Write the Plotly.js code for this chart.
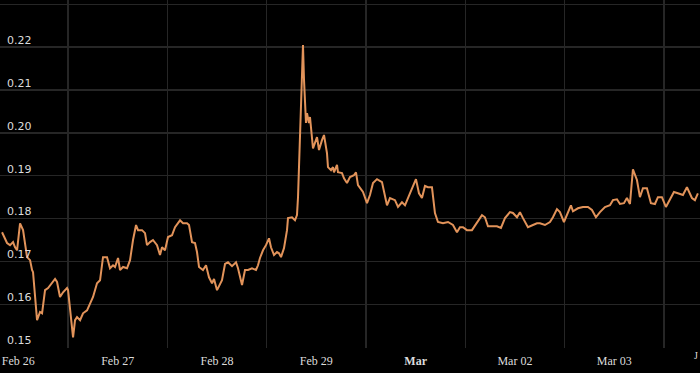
<!DOCTYPE html>
<html>
<head>
<meta charset="utf-8">
<script src="https://cdn.plot.ly/plotly-3.0.1.min.js"></script>
<style>
  html, body { margin: 0; padding: 0; background: #000; }
  #chart { width: 700px; height: 373px; }
</style>
</head>
<body>
<div id="chart"></div>
<script>
// hours offset from 2024-02-26 00:00
const hours = [-3.94,-2.73,-2.01,-1.28,-0.80,-0.31,0.41,1.14,2.10,2.83,3.31,3.55,4.52,5.24,5.73,6.45,7.18,8.14,8.87,9.35,10.07,10.80,11.77,12.01,12.49,13.22,13.70,14.18,14.91,15.63,16.60,17.32,18.05,19.01,19.74,20.46,21.43,22.15,22.88,23.36,24.09,24.57,25.30,26.26,26.99,27.71,28.44,28.92,29.89,30.61,31.09,31.82,32.54,33.51,34.23,34.72,35.44,36.17,37.13,37.86,39.07,39.79,40.76,41.24,41.97,42.69,43.17,43.66,44.62,45.35,46.07,46.80,47.28,48.01,48.73,49.21,49.94,50.66,51.63,52.60,53.08,53.56,54.05,54.77,55.50,56.46,57.43,57.91,58.39,59.12,59.84,60.57,61.05,61.78,62.50,62.99,63.47,64.19,64.92,65.16,66.13,66.85,67.33,67.58,68.06,68.54,68.78,69.03,69.51,69.75,70.23,70.47,70.96,71.20,72.17,72.65,73.37,73.86,74.58,74.82,75.55,76.03,76.27,77.00,77.24,78.21,78.69,79.41,80.14,81.10,81.59,82.07,83.28,84.25,84.97,85.70,86.66,87.87,89.08,89.80,91.01,91.74,92.70,93.43,94.63,96.08,96.81,97.53,98.26,98.98,99.95,100.67,101.40,102.61,103.82,105.02,105.99,106.71,107.44,108.41,109.61,110.82,112.03,112.75,113.48,114.69,115.65,116.62,117.59,118.79,119.52,120.49,121.21,121.94,123.14,124.35,125.32,126.04,127.25,128.46,129.18,130.15,130.87,131.84,132.57,133.53,134.02,135.22,136.43,137.64,138.61,139.57,140.54,141.75,142.96,143.68,144.65,145.37,146.34,147.06,147.79,148.51,149.48,150.20,150.93,151.89,152.86,153.83,154.55,155.52,156.48,157.45,158.42,159.38,160.59,161.56,162.77,163.49,164.21];

const values = [0.1768,0.1743,0.1738,0.1745,0.1733,0.1726,0.1789,0.1773,0.1710,0.1703,0.1680,0.1675,0.1563,0.1582,0.1579,0.1633,0.1638,0.1649,0.1659,0.1652,0.1617,0.1628,0.1638,0.1633,0.1593,0.1523,0.1563,0.1570,0.1563,0.1579,0.1586,0.1603,0.1617,0.1649,0.1656,0.1710,0.1710,0.1684,0.1691,0.1687,0.1708,0.1680,0.1687,0.1684,0.1703,0.1750,0.1785,0.1773,0.1773,0.1766,0.1738,0.1745,0.1750,0.1738,0.1715,0.1733,0.1726,0.1757,0.1761,0.1780,0.1796,0.1789,0.1789,0.1785,0.1745,0.1743,0.1722,0.1687,0.1680,0.1691,0.1663,0.1649,0.1659,0.1633,0.1649,0.1656,0.1694,0.1698,0.1689,0.1698,0.1684,0.1663,0.1645,0.1680,0.1680,0.1684,0.1680,0.1691,0.1708,0.1726,0.1738,0.1754,0.1733,0.1715,0.1722,0.1719,0.1710,0.1731,0.1773,0.1801,0.1803,0.1796,0.1808,0.1850,0.2006,0.2163,0.2205,0.2123,0.2023,0.2046,0.2023,0.2037,0.1990,0.1964,0.1990,0.1960,0.1983,0.1995,0.1953,0.1920,0.1913,0.1920,0.1908,0.1925,0.1908,0.1906,0.1894,0.1883,0.1897,0.1901,0.1908,0.1878,0.1862,0.1836,0.1855,0.1883,0.1892,0.1885,0.1831,0.1848,0.1843,0.1827,0.1838,0.1831,0.1859,0.1892,0.1859,0.1848,0.1876,0.1873,0.1873,0.1813,0.1792,0.1789,0.1792,0.1785,0.1768,0.1780,0.1780,0.1773,0.1773,0.1792,0.1808,0.1803,0.1782,0.1782,0.1782,0.1778,0.1801,0.1815,0.1813,0.1803,0.1815,0.1801,0.1780,0.1785,0.1789,0.1789,0.1785,0.1792,0.1803,0.1822,0.1815,0.1792,0.1808,0.1831,0.1817,0.1824,0.1827,0.1827,0.1820,0.1803,0.1815,0.1827,0.1831,0.1843,0.1845,0.1834,0.1836,0.1848,0.1834,0.1915,0.1890,0.1850,0.1871,0.1871,0.1836,0.1834,0.1850,0.1850,0.1827,0.1843,0.1862,0.1859,0.1855,0.1873,0.1848,0.1843,0.1859];

const tickDates = ['2024-02-26','2024-02-27','2024-02-28','2024-02-29','2024-03-01','2024-03-02','2024-03-03'];
const tickLabels = ['Feb 26','Feb 27','Feb 28','Feb 29','<b>Mar</b>','Mar 02','Mar 03'];
const yTicks = [0.15,0.16,0.17,0.18,0.19,0.20,0.21,0.22,0.23];
const yTickLabels = ['0.15','0.16','0.17','0.18','0.19','0.20','0.21','0.22',''];

function pad(n){ return (n<10?'0':'') + n; }
function hourToDate(h){
  const d = new Date(Date.UTC(2024,1,26) + Math.round(h*3600000));
  return d.getUTCFullYear()+'-'+pad(d.getUTCMonth()+1)+'-'+pad(d.getUTCDate())+' '+pad(d.getUTCHours())+':'+pad(d.getUTCMinutes())+':'+pad(d.getUTCSeconds());
}
const xs = hours.map(hourToDate);

const grid = '#262626';
const trace = {
  x: xs, y: values, type: 'scatter', mode: 'lines',
  line: {color: '#e2935a', width: 2},
  hoverinfo: 'skip'
};

const layout = {
  width: 700, height: 373,
  margin: {l: 0, r: 0, t: 0, b: 25},
  paper_bgcolor: '#000', plot_bgcolor: '#000',
  showlegend: false,
  xaxis: {
    type: 'date',
    range: ['2024-02-25 19:34', '2024-03-03 20:43'],
    tickmode: 'array', tickvals: tickDates, ticktext: tickLabels,
    showgrid: false, zeroline: false, showline: false, ticks: '',
    ticklabeloverflow: 'allow', ticklabelstandoff: 4,
    tickfont: {family: 'Liberation Serif, DejaVu Serif, serif', size: 12, color: '#dcdcdc'},
    minor: {dtick: 86400000, tick0: '2024-02-25 12:00', showgrid: true, gridcolor: grid, gridwidth: 1.5, ticks: ''}
  },
  yaxis: {
    range: [0.1498, 0.231],
    tickmode: 'array', tickvals: yTicks, ticktext: yTickLabels,
    showgrid: true, gridcolor: grid, gridwidth: 1.5,
    zeroline: false, showline: false, ticks: '',
    ticklabelposition: 'inside', ticklabelshift: -7, ticklabelstandoff: 4,
    ticklabeloverflow: 'allow',
    tickfont: {family: 'DejaVu Sans, sans-serif', size: 11, color: '#dcdcdc'}
  },
  annotations: [{
    text: 'J', xref: 'paper', yref: 'paper', x: 1, y: 0,
    xanchor: 'right', yanchor: 'top', showarrow: false,
    font: {family: 'Liberation Serif, serif', size: 10, color: '#dcdcdc'}
  }]
};

Plotly.newPlot('chart', [trace], layout, {displayModeBar: false, staticPlot: true});
</script>
</body>
</html>
